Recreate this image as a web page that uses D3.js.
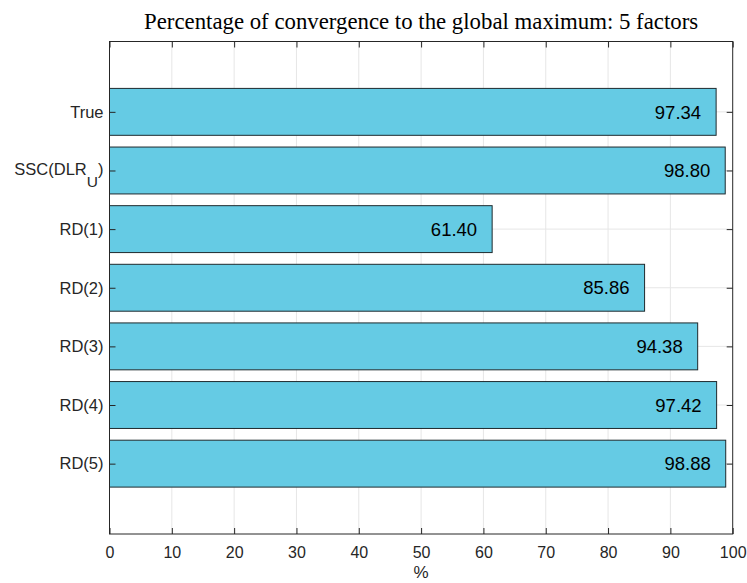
<!DOCTYPE html>
<html>
<head>
<meta charset="utf-8">
<script src="https://cdn.jsdelivr.net/npm/d3@7"></script>
<style>
  body { margin: 0; background: #fff; }
  svg { display: block; }
</style>
</head>
<body>
<svg id="chart" width="747" height="583"></svg>
<script>
// Methods, listed top to bottom
const methods = ["True", "SSC(DLR_U)", "RD(1)", "RD(2)", "RD(3)", "RD(4)", "RD(5)"];
// Percentage of runs converging to the global maximum
const percentages = [97.34, 98.80, 61.40, 85.86, 94.38, 97.42, 98.88];
const xTicks = [0, 10, 20, 30, 40, 50, 60, 70, 80, 90, 100];

const svg = d3.select("#chart");
const W = 747, H = 583;
const x0 = 109.5, x1 = 732.7, y0 = 41.5, y1 = 534;
const sans = "Liberation Sans, Arial, sans-serif";

const x = d3.scaleLinear().domain([0, 100]).range([x0, x1]);
// category slots 1..7 with 1.2 slots of padding at each end
const y = d3.scaleLinear().domain([-0.2, methods.length + 1.2]).range([y0, y1]);
const slot = y(2) - y(1);
const barH = slot * 0.8;

const axisColor = "#262626";
const gridColor = "#e6e6e6";

// grid lines
const grid = svg.append("g");
grid.selectAll("line.v").data(xTicks.slice(1, -1)).join("line")
  .attr("class", "v")
  .attr("x1", d => x(d)).attr("x2", d => x(d))
  .attr("y1", y0).attr("y2", y1)
  .attr("stroke", gridColor).attr("stroke-width", 1);
grid.selectAll("line.h").data(methods).join("line")
  .attr("class", "h")
  .attr("x1", x0).attr("x2", x1)
  .attr("y1", (d, i) => y(i + 1)).attr("y2", (d, i) => y(i + 1))
  .attr("stroke", gridColor).attr("stroke-width", 1);

// bars
svg.append("g").selectAll("rect").data(percentages).join("rect")
  .attr("x", x(0))
  .attr("y", (d, i) => y(i + 1) - barH / 2)
  .attr("width", d => x(d) - x(0))
  .attr("height", barH)
  .attr("fill", "#65cbe4")
  .attr("stroke", "#1f2a2e")
  .attr("stroke-width", 1);

// value labels inside bars
svg.append("g").selectAll("text").data(percentages).join("text")
  .attr("x", d => x(d) - 15)
  .attr("y", (d, i) => y(i + 1))
  .attr("dy", "0.36em")
  .attr("text-anchor", "end")
  .attr("font-family", sans)
  .attr("font-size", 18.5)
  .attr("fill", "#000")
  .text(d => d.toFixed(2));

// box
svg.append("rect")
  .attr("x", x0).attr("y", y0)
  .attr("width", x1 - x0).attr("height", y1 - y0)
  .attr("fill", "none").attr("stroke", axisColor).attr("stroke-width", 1);

// bottom axis (ticks inward)
const xAxis = d3.axisBottom(x).tickValues(xTicks).tickSize(-6).tickPadding(13).tickFormat(d3.format("d"));
const gx = svg.append("g").attr("transform", `translate(0,${y1})`).call(xAxis);
gx.select(".domain").remove();
gx.selectAll("line").attr("stroke", axisColor);
gx.attr("font-size", null).attr("font-family", null);
gx.selectAll("text").attr("font-family", sans)
  .attr("font-size", 16).attr("fill", axisColor);

// top axis ticks
const gxt = svg.append("g").attr("transform", `translate(0,${y0})`)
  .call(d3.axisTop(x).tickValues(xTicks).tickSize(-6).tickFormat(""));
gxt.select(".domain").remove();
gxt.selectAll("line").attr("stroke", axisColor);

// left axis
const yAxis = d3.axisLeft(y).tickValues(d3.range(1, methods.length + 1)).tickSize(-6)
  .tickFormat("");
const gy = svg.append("g").attr("transform", `translate(${x0},0)`).call(yAxis);
gy.select(".domain").remove();
gy.attr("font-size", null).attr("font-family", null);
gy.selectAll("line").attr("stroke", axisColor);
gy.selectAll(".tick").each(function (d) {
  const label = methods[d - 1];
  const t = d3.select(this).select("text")
    .attr("font-family", sans)
    .attr("font-size", 16.5).attr("fill", axisColor).attr("x", -6);
  const m = label.match(/^(.*)_(\w)(.*)$/);
  if (m) {
    t.attr("dy", null).attr("y", 4);
    t.append("tspan").text(m[1]);
    t.append("tspan").attr("dy", 12.5).attr("font-size", 15.5).text(m[2]);
    t.append("tspan").attr("dy", -12.5).text(m[3]);
  } else {
    t.text(label);
  }
});

// right axis ticks
const gyr = svg.append("g").attr("transform", `translate(${x1},0)`)
  .call(d3.axisRight(y).tickValues(d3.range(1, methods.length + 1)).tickSize(-6).tickFormat(""));
gyr.select(".domain").remove();
gyr.selectAll("line").attr("stroke", axisColor);

// x label
svg.append("text")
  .attr("x", (x0 + x1) / 2).attr("y", 578)
  .attr("text-anchor", "middle")
  .attr("font-family", sans)
  .attr("font-size", 17).attr("fill", axisColor)
  .text("%");

// title
svg.append("text")
  .attr("x", (x0 + x1) / 2).attr("y", 29)
  .attr("text-anchor", "middle")
  .attr("font-family", "Liberation Serif, Times New Roman, serif")
  .attr("font-size", 22.8).attr("fill", "#000")
  .text("Percentage of convergence to the global maximum: 5 factors");
</script>
</body>
</html>
